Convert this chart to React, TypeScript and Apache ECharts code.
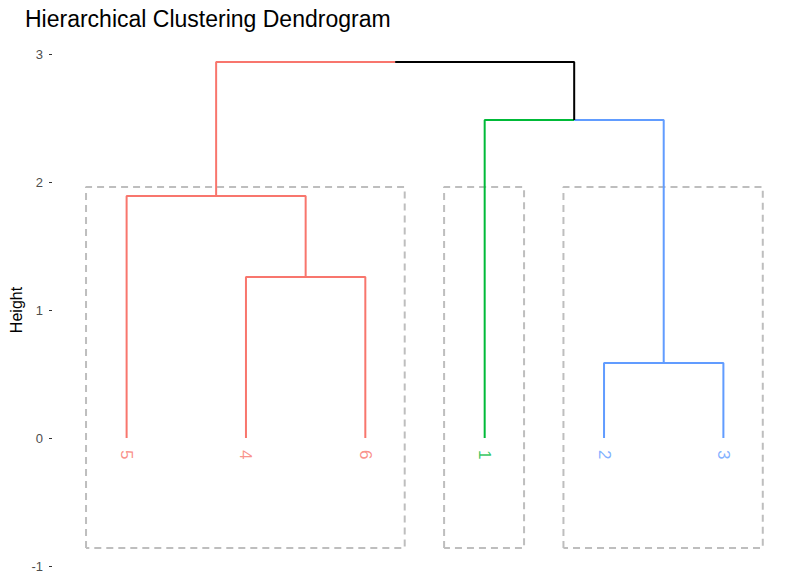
import React, { useEffect, useRef } from "react";
import * as echarts from "echarts";

// Leaves in dendrogram order
const leafLabels = ["5", "4", "6", "1", "2", "3"];
const leafCluster = [0, 0, 0, 1, 2, 2];
const clusterColors = ["#F8766D", "#00BA38", "#619CFF"];
// Merges: [leftNode, rightNode, height]; leaves are "L<i>" (position index), merges "M<i>"
const merges: [string, string, number][] = [
  ["L4", "L5", 0.586],
  ["L1", "L2", 1.258],
  ["L0", "M1", 1.89],
  ["L3", "M0", 2.484],
  ["M2", "M3", 2.9375],
];
// Cluster rectangles: [xmin, xmax, ymin, ymax]
const rects: [number, number, number, number][] = [
  [0.66, 3.33, -0.86, 1.96],
  [3.66, 4.33, -0.86, 1.96],
  [4.66, 6.33, -0.86, 1.96],
];
const yTicks = [-1, 0, 1, 2, 3];

function buildSegments() {
  const info: Record<string, { x: number; y: number; cluster: number | null }> = {};
  leafLabels.forEach((_, i) => {
    info["L" + i] = { x: i + 1, y: 0, cluster: leafCluster[i] };
  });
  const segs: { coords: number[][]; color: string }[] = [];
  merges.forEach(([a, b, h], i) => {
    const A = info[a];
    const B = info[b];
    const mx = (A.x + B.x) / 2;
    const same = A.cluster !== null && A.cluster === B.cluster;
    const colA = A.cluster !== null ? clusterColors[A.cluster] : "#000000";
    const colB = B.cluster !== null ? clusterColors[B.cluster] : "#000000";
    if (same) {
      segs.push({ coords: [[A.x, A.y], [A.x, h], [B.x, h], [B.x, B.y]], color: colA });
    } else {
      segs.push({ coords: [[A.x, A.y], [A.x, h], [mx, h]], color: colA });
      segs.push({ coords: [[mx, h], [B.x, h], [B.x, B.y]], color: colB });
    }
    info["M" + i] = { x: mx, y: h, cluster: same ? A.cluster : null };
  });
  return segs;
}

const FONT = "Liberation Sans, Arial, sans-serif";

export default function App() {
  const ref = useRef<HTMLDivElement>(null);
  useEffect(() => {
    if (!ref.current) return;
    const chart = echarts.init(ref.current, undefined, { renderer: "svg" });
    const segs = buildSegments();
    const series: any[] = [];
    rects.forEach((r) => {
      series.push({
        type: "line",
        data: [[r[0], r[2]], [r[0], r[3]], [r[1], r[3]], [r[1], r[2]], [r[0], r[2]]],
        symbol: "none",
        lineStyle: { color: "#BEBEBE", width: 2, type: [7, 5] },
        silent: true,
      });
    });
    segs.forEach((s) => {
      series.push({
        type: "line",
        data: s.coords,
        symbol: "none",
        lineStyle: { color: s.color, width: 2 },
        silent: true,
      });
    });
    series.push({
      type: "scatter",
      symbolSize: 0,
      data: leafLabels.map((l, i) => ({
        value: [i + 1, 0],
        label: { color: clusterColors[leafCluster[i]] },
        name: l,
      })),
      label: {
        show: true,
        position: "bottom",
        distance: 12,
        rotate: -90,
        align: "left",
        verticalAlign: "middle",
        fontSize: 17,
        fontFamily: FONT,
        formatter: (p: any) => p.name,
      },
      silent: true,
    });
    chart.setOption({
      animation: false,
      title: {
        text: "Hierarchical Clustering Dendrogram",
        left: 25,
        top: 7,
        padding: 0,
        textStyle: { fontSize: 23, fontWeight: "normal", color: "#000", fontFamily: FONT },
      },
      grid: { left: 55, right: 11, top: 54, bottom: 21, containLabel: false, outerBoundsMode: "none" },
      xAxis: {
        type: "value",
        min: 0.4,
        max: 6.6,
        show: false,
      },
      yAxis: {
        type: "value",
        min: -1,
        max: 3,
        interval: 1,
        offset: 3,
        name: "Height",
        nameLocation: "middle",
        nameGap: 28,
        nameMoveOverlap: false,
        nameRotate: 90,
        nameTextStyle: { fontSize: 16, color: "#000", fontFamily: FONT },
        axisLine: { show: false },
        axisTick: { show: true, length: 3, lineStyle: { color: "#333", width: 1 } },
        axisLabel: {
          color: "#4D4D4D",
          fontSize: 13,
          margin: 9,
          fontFamily: FONT,
          customValues: yTicks,
        },
        splitLine: { show: false },
      },
      series,
    });
    return () => chart.dispose();
  }, []);
  return (
    <div
      ref={ref}
      style={{ position: "absolute", left: 0, top: 0, width: 806, height: 587, background: "#fff" }}
    />
  );
}
